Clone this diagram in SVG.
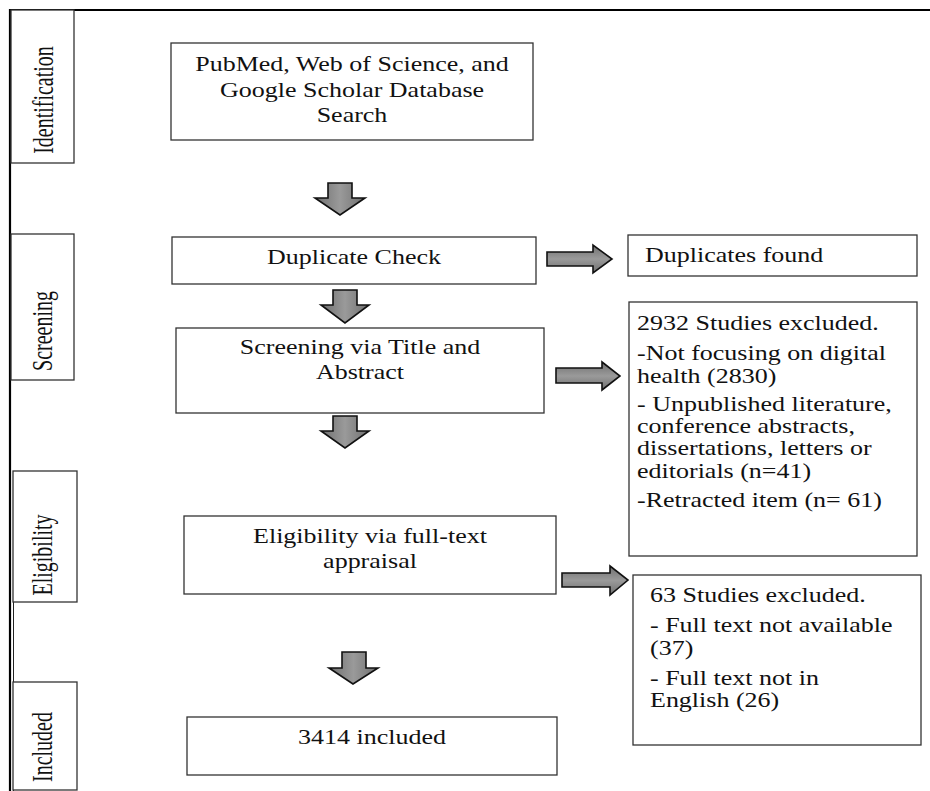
<svg xmlns="http://www.w3.org/2000/svg" width="930" height="791" viewBox="0 0 930 791">
<defs>
<linearGradient id="gv" x1="0" y1="0" x2="1" y2="0">
<stop offset="0" stop-color="#6f6f6f"/><stop offset="0.5" stop-color="#9a9a9a"/><stop offset="1" stop-color="#6f6f6f"/>
</linearGradient>
<linearGradient id="gh" x1="0" y1="0" x2="0" y2="1">
<stop offset="0" stop-color="#6f6f6f"/><stop offset="0.5" stop-color="#9a9a9a"/><stop offset="1" stop-color="#6f6f6f"/>
</linearGradient>
</defs>
<style>
.box{fill:#fff;stroke:#333;stroke-width:1.3}
.t{font-family:"Liberation Serif","Times New Roman",serif;font-size:20px;fill:#111}
.m{text-anchor:middle}
.av{fill:url(#gv);stroke:#111;stroke-width:1.6;stroke-linejoin:miter}
.ah{fill:url(#gh);stroke:#111;stroke-width:1.6;stroke-linejoin:miter}
</style>
<rect width="930" height="791" fill="#fff"/>
<g id="frame">
<line x1="10" y1="10" x2="930" y2="10" stroke="#000" stroke-width="2.2"/>
<line x1="10" y1="9" x2="10" y2="791" stroke="#000" stroke-width="2.2"/>
<line x1="13.5" y1="500" x2="13.5" y2="791" stroke="#222" stroke-width="1"/>
</g>
<g id="stage-identification">
<rect class="box" x="11" y="10" width="63" height="153"/>
<text class="t m" transform="translate(53,100) scale(1.45,1) rotate(-90)">Identification</text>
</g>
<g id="stage-screening">
<rect class="box" x="11" y="234" width="63" height="146"/>
<text class="t m" transform="translate(52,331) scale(1.45,1) rotate(-90)">Screening</text>
</g>
<g id="stage-eligibility">
<rect class="box" x="13" y="471" width="64" height="131"/>
<text class="t m" transform="translate(52,555) scale(1.45,1) rotate(-90)">Eligibility</text>
</g>
<g id="stage-included">
<rect class="box" x="13" y="682" width="64" height="108"/>
<text class="t m" transform="translate(52,747) scale(1.45,1) rotate(-90)">Included</text>
</g>
<g id="search">
<rect class="box" x="171" y="43" width="362" height="97"/>
<text class="t m" transform="translate(352,71) scale(1.3,1)">PubMed, Web of Science, and</text>
<text class="t m" transform="translate(352,97) scale(1.3,1)">Google Scholar Database</text>
<text class="t m" transform="translate(352,122) scale(1.3,1)">Search</text>
</g>
<g id="duplicate-check">
<rect class="box" x="172" y="237" width="364" height="47"/>
<text class="t m" transform="translate(354,264) scale(1.3,1)">Duplicate Check</text>
</g>
<g id="duplicates-found">
<rect class="box" x="628" y="235" width="289" height="41"/>
<text class="t" transform="translate(645,262) scale(1.3,1)">Duplicates found</text>
</g>
<g id="screening-title">
<rect class="box" x="176" y="328" width="368" height="85"/>
<text class="t m" transform="translate(360,354) scale(1.3,1)">Screening via Title and</text>
<text class="t m" transform="translate(360,379) scale(1.3,1)">Abstract</text>
</g>
<g id="excluded-2932">
<rect class="box" x="629" y="302" width="288" height="254"/>
<text class="t" transform="translate(637,330) scale(1.3,1)">2932 Studies excluded.</text>
<text class="t" transform="translate(637,360) scale(1.3,1)">-Not focusing on digital</text>
<text class="t" transform="translate(637,383) scale(1.3,1)">health (2830)</text>
<text class="t" transform="translate(637,411) scale(1.3,1)">- Unpublished literature,</text>
<text class="t" transform="translate(637,433) scale(1.3,1)">conference abstracts,</text>
<text class="t" transform="translate(637,455) scale(1.3,1)">dissertations, letters or</text>
<text class="t" transform="translate(637,478) scale(1.3,1)">editorials (n=41)</text>
<text class="t" transform="translate(637,507) scale(1.3,1)">-Retracted item (n= 61)</text>
</g>
<g id="eligibility-fulltext">
<rect class="box" x="184" y="516" width="372" height="78"/>
<text class="t m" transform="translate(370,543) scale(1.3,1)">Eligibility via full-text</text>
<text class="t m" transform="translate(370,568) scale(1.3,1)">appraisal</text>
</g>
<g id="excluded-63">
<rect class="box" x="633" y="575" width="288" height="170"/>
<text class="t" transform="translate(650,602) scale(1.3,1)">63 Studies excluded.</text>
<text class="t" transform="translate(650,632) scale(1.3,1)">- Full text not available</text>
<text class="t" transform="translate(650,655) scale(1.3,1)">(37)</text>
<text class="t" transform="translate(650,685) scale(1.3,1)">- Full text not in</text>
<text class="t" transform="translate(650,707) scale(1.3,1)">English (26)</text>
</g>
<g id="included-3414">
<rect class="box" x="187" y="717" width="370" height="58"/>
<text class="t m" transform="translate(372,744) scale(1.3,1)">3414 included</text>
</g>
<g id="connectors">
<path class="av" d="M328,183 H352 V198 H365 L340,215 L315,198 H328 Z"/>
<path class="av" d="M333,290 H357 V305 H369 L345,323 L321,305 H333 Z"/>
<path class="av" d="M333,416 H357 V431 H369 L345,448 L321,431 H333 Z"/>
<path class="av" d="M342,652 H366 V668 H378 L353,684 L329,668 H342 Z"/>
<path class="ah" d="M547,252 H593 V245 L612,259 L593,273 V266 H547 Z"/>
<path class="ah" d="M556,368 H602 V362 L620,376 L602,390 V383 H556 Z"/>
<path class="ah" d="M562,573 H610 V566 L628,580 L610,595 V587 H562 Z"/>
</g>
</svg>
